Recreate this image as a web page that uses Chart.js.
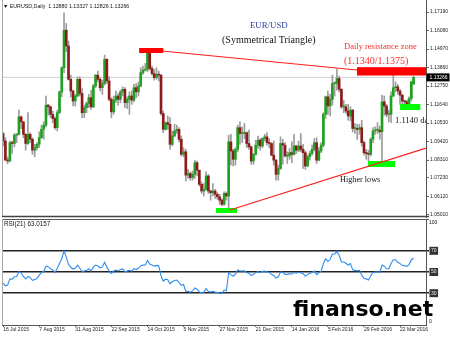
<!DOCTYPE html>
<html><head><meta charset="utf-8">
<script src="https://cdn.jsdelivr.net/npm/chart.js@4.4.0/dist/chart.umd.min.js"></script>
<style>
html,body{margin:0;padding:0;background:#fff;}
#wrap{position:relative;width:450px;height:337px;overflow:hidden;background:#fff;}
canvas{position:absolute;left:0;}
.t{position:absolute;white-space:nowrap;line-height:1;}
.serif{font-family:"Liberation Serif","Times New Roman",serif;}
.sans{font-family:"Liberation Sans",Arial,sans-serif;}
</style></head><body>
<div id="wrap">
<canvas id="pc" width="450" height="219" style="top:0;width:450px;height:219px"></canvas>
<canvas id="rc" width="450" height="118" style="top:219px;width:450px;height:118px"></canvas>
<div class="t sans" style="left:3px;top:3.5px;font-size:5.3px;color:#111">▼ EURUSD,Daily&nbsp; 1.12880 1.13327 1.12826 1.13266</div>
<div class="t serif" style="left:250px;top:20.6px;font-size:8.8px;color:#2b3f9e">EUR/USD</div>
<div class="t serif" style="left:222px;top:35.1px;font-size:10px;color:#111">(Symmetrical Triangle)</div>
<div class="t serif" style="left:344px;top:41.9px;font-size:8.5px;color:#ff2a2a">Daily resistance zone</div>
<div class="t serif" style="left:344px;top:55.6px;font-size:10px;color:#ff2a2a">(1.1340/1.1375)</div>
<div class="t serif" style="left:395px;top:115.9px;width:31px;overflow:hidden;font-size:8.5px;color:#111">1.1140 daily support</div>
<div class="t serif" style="left:340px;top:175.8px;font-size:8.2px;color:#111">Higher lows</div>
<div class="t sans" style="left:4px;top:221px;font-size:6.3px;color:#111">RSI(21) 63.0157</div>
<div class="t sans" style="left:429px;top:219.5px;font-size:5px;color:#111">100</div>
<div class="t sans" style="left:429px;top:318.5px;font-size:5px;color:#111">0</div>
<div class="t" style="left:293px;top:298.4px;font-size:22px;font-weight:bold;font-family:'DejaVu Sans',Verdana,sans-serif;color:#000">finanso.net</div>
</div>
<script>
// ---- data (EURUSD daily, 16 Jul 2015 .. 30 Mar 2016) ----
const open = [1.0990,1.0945,1.0830,1.0825,1.0935,1.0930,1.0980,1.0985,1.1090,1.1060,
1.0985,1.0930,1.0985,1.0955,1.0890,1.0905,1.0925,1.0965,1.1015,1.1040,
1.1160,1.1150,1.1105,1.1080,1.1025,1.1115,1.1240,1.1385,1.1610,1.1515,
1.1315,1.1245,1.1185,1.1215,1.1315,1.1230,1.1115,1.1145,1.1170,1.1205,
1.1150,1.1275,1.1340,1.1315,1.1265,1.1290,1.1435,1.1305,1.1195,1.1120,
1.1190,1.1215,1.1195,1.1240,1.1255,1.1175,1.1195,1.1215,1.1190,1.1265,
1.1240,1.1275,1.1355,1.1370,1.1375,1.1475,1.1380,1.1350,1.1325,1.1345,
1.1340,1.1110,1.1015,1.1055,1.1045,1.0925,1.0975,1.1005,1.1015,1.0955,
1.0865,1.0880,1.0740,1.0750,1.0725,1.0745,1.0815,1.0770,1.0685,1.0645,
1.0655,1.0735,1.0645,1.0635,1.0645,1.0625,1.0610,1.0590,1.0565,1.0630,
1.0615,1.0940,1.0885,1.0835,1.0895,1.1025,1.0990,1.0990,1.0995,1.0930,
1.0910,1.0825,1.0865,1.0920,1.0950,1.0915,1.0960,1.0970,1.0935,1.0930,
1.0860,1.0830,1.0745,1.0780,1.0930,1.0920,1.0855,1.0855,1.0875,1.0865,
1.0915,1.0890,1.0915,1.0895,1.0875,1.0795,1.0850,1.0870,1.0895,1.0935,
1.0830,1.0885,1.0920,1.1105,1.1210,1.1155,1.1195,1.1290,1.1290,1.1320,
1.1255,1.1150,1.1150,1.1125,1.1095,1.1130,1.1020,1.1020,1.1015,1.1025,
1.0935,1.0875,1.0870,1.0865,1.0955,1.1005,1.1010,1.1010,1.1000,1.1180,
1.1155,1.1105,1.1105,1.1215,1.1265,1.1270,1.1245,1.1220,1.1185,1.1180,
1.1165,1.1200,1.1288];
const high = [1.0995,1.0965,1.0850,1.0945,1.0945,1.0990,1.0990,1.1130,1.1095,1.1060,
1.0990,1.1115,1.0995,1.0965,1.0925,1.0935,1.1000,1.1040,1.1060,1.1215,
1.1165,1.1155,1.1125,1.1090,1.1130,1.1245,1.1390,1.1714,1.1650,1.1545,
1.1340,1.1250,1.1225,1.1330,1.1330,1.1260,1.1160,1.1180,1.1225,1.1250,
1.1285,1.1345,1.1365,1.1325,1.1310,1.1460,1.1440,1.1330,1.1205,1.1215,
1.1245,1.1230,1.1250,1.1270,1.1265,1.1210,1.1240,1.1245,1.1285,1.1290,
1.1300,1.1385,1.1395,1.1410,1.1485,1.1495,1.1395,1.1375,1.1385,1.1365,
1.1345,1.1125,1.1060,1.1095,1.1085,1.1005,1.1045,1.1040,1.1025,1.0975,
1.0905,1.0895,1.0775,1.0760,1.0765,1.0830,1.0825,1.0770,1.0700,1.0690,
1.0760,1.0745,1.0650,1.0690,1.0655,1.0635,1.0625,1.0600,1.0640,1.0640,
1.0980,1.0985,1.0895,1.0905,1.1040,1.1060,1.1030,1.1050,1.1000,1.1010,
1.0915,1.0870,1.0950,1.0975,1.0960,1.0965,1.0985,1.0995,1.0960,1.0935,
1.0945,1.0835,1.0800,1.0970,1.0955,1.0935,1.0880,1.0900,1.0940,1.0985,
1.0920,1.0945,1.0990,1.0925,1.0885,1.0860,1.0885,1.0920,1.0960,1.0965,
1.0905,1.0935,1.1115,1.1215,1.1245,1.1225,1.1340,1.1300,1.1376,1.1335,
1.1260,1.1190,1.1165,1.1165,1.1150,1.1135,1.1050,1.1045,1.1045,1.1070,
1.0945,1.0895,1.0890,1.0965,1.1025,1.1030,1.1055,1.1035,1.1220,1.1215,
1.1165,1.1130,1.1240,1.1340,1.1300,1.1285,1.1255,1.1225,1.1190,1.1190,
1.1210,1.1305,1.13327];
const low = [1.0915,1.0830,1.0808,1.0820,1.0870,1.0910,1.0935,1.0980,1.1020,1.0965,
1.0890,1.0925,1.0935,1.0865,1.0850,1.0890,1.0905,1.0960,1.0955,1.1030,
1.1100,1.1085,1.1055,1.1015,1.1005,1.1110,1.1210,1.1355,1.1480,1.1310,
1.1210,1.1155,1.1155,1.1210,1.1215,1.1085,1.1085,1.1115,1.1145,1.1135,
1.1145,1.1265,1.1300,1.1245,1.1225,1.1280,1.1290,1.1185,1.1085,1.1105,
1.1175,1.1160,1.1175,1.1215,1.1145,1.1140,1.1105,1.1165,1.1180,1.1205,
1.1215,1.1270,1.1345,1.1365,1.1360,1.1370,1.1340,1.1310,1.1315,1.1305,
1.1100,1.0995,1.1010,1.1015,1.0895,1.0915,1.0970,1.0990,1.0940,1.0855,
1.0850,1.0705,1.0720,1.0710,1.0710,1.0720,1.0735,1.0675,1.0630,1.0615,
1.0650,1.0630,1.0590,1.0615,1.0600,1.0595,1.0565,1.0555,1.0560,1.0590,
1.0524,1.0800,1.0795,1.0800,1.0880,1.0925,1.0935,1.0960,1.0905,1.0895,
1.0805,1.0805,1.0860,1.0900,1.0890,1.0905,1.0945,1.0920,1.0905,1.0855,
1.0800,1.0710,1.0710,1.0775,1.0805,1.0850,1.0810,1.0835,1.0815,1.0860,
1.0870,1.0880,1.0880,1.0780,1.0775,1.0790,1.0830,1.0860,1.0885,1.0810,
1.0825,1.0875,1.0910,1.1080,1.1105,1.1095,1.1160,1.1215,1.1250,1.1240,
1.1140,1.1115,1.1110,1.1070,1.1065,1.1000,1.0990,1.0955,1.0985,1.0915,
1.0860,1.0835,1.0825,1.0855,1.0935,1.0985,1.0990,1.0955,1.0822,1.1100,
1.1090,1.1060,1.1055,1.1210,1.1240,1.1225,1.1165,1.1165,1.1145,1.1160,
1.1160,1.1185,1.12826];
const close = [1.0945,1.0830,1.0825,1.0935,1.0930,1.0980,1.0985,1.1090,1.1060,1.0985,
1.0930,1.0985,1.0955,1.0890,1.0905,1.0925,1.0965,1.1015,1.1040,1.1160,
1.1150,1.1105,1.1080,1.1025,1.1115,1.1240,1.1385,1.1610,1.1515,1.1315,
1.1245,1.1185,1.1215,1.1315,1.1230,1.1115,1.1145,1.1170,1.1205,1.1150,
1.1275,1.1340,1.1315,1.1265,1.1290,1.1435,1.1305,1.1195,1.1120,1.1190,
1.1215,1.1195,1.1240,1.1255,1.1175,1.1195,1.1215,1.1190,1.1265,1.1240,
1.1275,1.1355,1.1370,1.1375,1.1475,1.1380,1.1350,1.1325,1.1345,1.1340,
1.1110,1.1015,1.1055,1.1045,1.0925,1.0975,1.1005,1.1015,1.0955,1.0865,
1.0880,1.0740,1.0750,1.0725,1.0745,1.0815,1.0770,1.0685,1.0645,1.0655,
1.0735,1.0645,1.0635,1.0645,1.0625,1.0610,1.0590,1.0565,1.0630,1.0615,
1.0940,1.0885,1.0835,1.0895,1.1025,1.0990,1.0990,1.0995,1.0930,1.0910,
1.0825,1.0865,1.0920,1.0950,1.0915,1.0960,1.0970,1.0935,1.0930,1.0860,
1.0830,1.0745,1.0780,1.0930,1.0920,1.0855,1.0855,1.0875,1.0865,1.0915,
1.0890,1.0915,1.0895,1.0875,1.0795,1.0850,1.0870,1.0895,1.0935,1.0830,
1.0885,1.0920,1.1105,1.1210,1.1155,1.1195,1.1290,1.1290,1.1320,1.1255,
1.1150,1.1150,1.1125,1.1095,1.1130,1.1020,1.1020,1.1015,1.1025,1.0935,
1.0875,1.0870,1.0865,1.0955,1.1005,1.1010,1.1010,1.1000,1.1180,1.1155,
1.1105,1.1105,1.1215,1.1265,1.1270,1.1245,1.1220,1.1185,1.1180,1.1165,
1.1200,1.1300,1.13266];
const rsi = [39.5,37.0,37.6,43.5,43.2,45.5,45.8,50.5,49.0,45.8,
43.4,45.9,44.6,42.2,43.0,43.8,47.0,49.5,50.5,55.5,
55.0,53.0,52.0,49.5,53.5,58.0,62.5,70.0,64.0,57.0,
54.5,52.8,53.8,56.5,53.5,50.5,51.0,51.7,52.8,51.0,
54.6,56.5,55.6,54.0,54.8,59.2,54.6,51.0,48.6,50.9,
51.7,51.0,52.4,52.9,50.3,50.9,51.6,50.8,53.2,52.3,
53.5,56.0,56.5,56.7,61.0,57.5,56.5,55.6,56.2,55.9,
46.5,41.5,43.2,42.8,38.9,40.8,42.0,42.4,40.3,37.5,
38.2,31.5,31.8,31.0,32.2,35.0,33.8,31.2,30.2,30.8,
34.5,31.5,31.2,31.7,31.0,30.6,30.2,29.6,33.0,32.5,
49.5,47.5,46.0,48.0,52.0,51.0,51.0,51.1,49.4,48.9,
46.6,47.8,49.4,50.3,49.3,50.6,50.9,49.8,49.7,47.6,
46.8,44.2,45.5,50.0,49.7,47.8,47.8,48.4,48.1,49.6,
48.9,49.7,49.1,48.5,46.0,48.0,48.6,49.5,50.9,47.5,
49.3,50.5,58.0,62.5,60.0,62.0,67.0,67.0,69.5,65.5,
59.5,59.5,58.2,56.6,58.0,52.0,51.5,51.2,51.6,47.0,
44.0,43.5,42.5,46.5,49.5,50.0,50.0,49.5,56.5,55.5,
53.0,53.0,58.0,61.5,61.6,59.2,57.9,56.2,56.0,55.2,
57.0,61.6,63.0157];
const xTickLabels = ['16 Jul 2015','7 Aug 2015','31 Aug 2015','22 Sep 2015','14 Oct 2015','5 Nov 2015','27 Nov 2015','21 Dec 2015','14 Jan 2016','5 Feb 2016','29 Feb 2016','22 Mar 2016'];
const xTickIdx = [0,16,32,48,64,80,96,112,128,144,160,176];
const priceTicks = [1.17190,1.16080,1.14970,1.13860,1.12750,1.11640,1.10530,1.09420,1.08310,1.07230,1.06120,1.05010];
const rsiLevels = [30,50,70];
const lastPrice = 1.13266;
// annotations in (bar index, price)
const trendLines = [
  [{x:70.5,y:1.1485},{x:156.9,y:1.1371}],   // resistance (upper triangle side)
  [{x:100.6,y:1.0531},{x:187.5,y:1.0903}]   // support (higher lows)
];
const zones = [
  {x0:60.3,x1:71.0,lo:1.1473,hi:1.1503,color:'#ff0000'},
  {x0:156.9,x1:187.5,lo:1.1338,hi:1.1388,color:'#ff0000'},
  {x0:94.4,x1:103.7,lo:1.0513,hi:1.0543,color:'#00ff00'},
  {x0:161.8,x1:173.8,lo:1.0789,hi:1.0825,color:'#00ff00'},
  {x0:176.0,x1:185.0,lo:1.1131,hi:1.1167,color:'#00ff00'}
];
const N = 188; // bar slots incl. right margin
const categories = Array.from({length:N},(_,i)=>String(i));

Chart.defaults.font.family = '"Liberation Sans", Arial, sans-serif';
Chart.defaults.animation = false;

const bull='#1fa11f', bear='#8e1b1b', wick='#9c9c9c';

function clipArea(ctx,a){ ctx.beginPath(); ctx.rect(a.left,a.top,a.right-a.left,a.bottom-a.top); ctx.clip(); }

const pricePlugin = {
  id:'pricePlugin',
  beforeDatasetsDraw(chart){
    const {ctx, chartArea:a, scales} = chart;
    const y = scales.y.getPixelForValue(lastPrice);
    ctx.save(); clipArea(ctx,a);
    ctx.strokeStyle='#d0d0d0'; ctx.lineWidth=1;
    ctx.beginPath(); ctx.moveTo(a.left,y); ctx.lineTo(a.right,y); ctx.stroke();
    ctx.restore();
  },
  afterDatasetsDraw(chart){
    const {ctx, chartArea:a, scales} = chart;
    const xs=scales.x, ys=scales.y;
    ctx.save(); clipArea(ctx,a);
    zones.forEach(z=>{
      const x0=xs.getPixelForValue(z.x0), x1=xs.getPixelForValue(z.x1);
      const y0=ys.getPixelForValue(z.hi), y1=ys.getPixelForValue(z.lo);
      ctx.fillStyle=z.color; ctx.fillRect(x0,y0,x1-x0,y1-y0);
    });
    ctx.strokeStyle='#ff1e1e'; ctx.lineWidth=1.2;
    trendLines.forEach(l=>{
      ctx.beginPath();
      ctx.moveTo(xs.getPixelForValue(l[0].x), ys.getPixelForValue(l[0].y));
      ctx.lineTo(xs.getPixelForValue(l[1].x), ys.getPixelForValue(l[1].y));
      ctx.stroke();
    });
    ctx.restore();
  },
  afterDraw(chart){
    const {ctx, chartArea:a, scales} = chart;
    ctx.save();
    ctx.strokeStyle='#a8a8a8'; ctx.lineWidth=1;
    ctx.beginPath(); ctx.moveTo(a.left+0.5,a.top); ctx.lineTo(a.left+0.5,a.bottom); ctx.stroke();
    ctx.strokeStyle='#444'; ctx.lineWidth=1.5;
    ctx.beginPath(); ctx.moveTo(a.left,a.bottom-0.5); ctx.lineTo(a.right+3,a.bottom-0.5); ctx.stroke();
    const y=scales.y.getPixelForValue(lastPrice);
    ctx.fillStyle='#000'; ctx.fillRect(a.right+0.5,y-4,23,8);
    ctx.fillStyle='#fff'; ctx.font='5px "Liberation Sans", Arial'; ctx.textBaseline='middle'; ctx.textAlign='left';
    ctx.fillText(lastPrice.toFixed(5), a.right+3.5, y+0.3);
    ctx.restore();
  }
};

new Chart(document.getElementById('pc'), {
  type:'bar',
  data:{labels:categories, datasets:[
    {data:high.map((h,i)=>[low[i],h]), backgroundColor:wick, barThickness:1, grouped:false, order:6},
    {data:open.map((o,i)=>[o,close[i]]), backgroundColor:open.map((o,i)=>close[i]>=o?bull:bear), barThickness:2, minBarLength:1, grouped:false, order:5}
  ]},
  options:{
    responsive:false, devicePixelRatio:1, events:[],
    layout:{padding:{left:2,right:0,top:0,bottom:2}},
    plugins:{legend:{display:false}, tooltip:{enabled:false}},
    scales:{
      x:{type:'category', display:false, offset:true},
      y:{position:'right', min:1.0489, max:1.1791,
         afterBuildTicks(s){ s.ticks = priceTicks.map(v=>({value:v})); },
         afterFit(s){ s.width=24; s.paddingTop=0; s.paddingBottom=0; },
         ticks:{font:{size:5}, color:'#222', padding:1, callback:v=>Number(v).toFixed(5), autoSkip:false},
         grid:{drawOnChartArea:false, drawTicks:true, tickLength:3, color:'#666'},
         border:{display:true, color:'#555', width:1}}
    }
  },
  plugins:[pricePlugin]
});

const rsiPlugin = {
  id:'rsiPlugin',
  afterDraw(chart){
    const {ctx, chartArea:a} = chart;
    ctx.save();
    ctx.strokeStyle='#555'; ctx.lineWidth=1;
    ctx.beginPath(); ctx.moveTo(a.left,a.top+0.5); ctx.lineTo(a.right+3,a.top+0.5); ctx.stroke();
    ctx.strokeStyle='#a8a8a8';
    ctx.beginPath(); ctx.moveTo(a.left+0.5,a.top); ctx.lineTo(a.left+0.5,a.bottom); ctx.stroke();
    ctx.restore();
  }
};

new Chart(document.getElementById('rc'), {
  type:'line',
  data:{labels:categories, datasets:[
    {data:rsi, borderColor:'#2d8cf0', borderWidth:1.1, pointRadius:0, tension:0}
  ]},
  options:{
    responsive:false, devicePixelRatio:1, events:[],
    layout:{padding:{left:2,right:0,top:0,bottom:0}},
    plugins:{legend:{display:false}, tooltip:{enabled:false}},
    scales:{
      x:{type:'category', offset:true,
         afterBuildTicks(s){ s.ticks = xTickIdx.map(v=>({value:v})); },
         afterFit(s){ s.height=12; s.paddingLeft=0; s.paddingRight=0; },
         ticks:{font:{size:5}, color:'#222', align:'start', padding:0, autoSkip:false, maxRotation:0, minRotation:0,
                callback:(v,i)=>xTickLabels[i]},
         grid:{drawOnChartArea:false, drawTicks:true, tickLength:2, color:'#777'},
         border:{display:true, color:'#555', width:1}},
      y:{position:'right', min:0, max:100,
         afterBuildTicks(s){ s.ticks = rsiLevels.map(v=>({value:v})); },
         afterFit(s){ s.width=24; s.paddingTop=0; s.paddingBottom=0; },
         ticks:{font:{size:5}, color:'#eee', padding:2, showLabelBackdrop:true, backdropColor:'#333', backdropPadding:{top:1,bottom:1,left:1.5,right:1.5}},
         grid:{color:'#222', lineWidth:1.5, drawTicks:true, tickLength:3},
         border:{display:true, color:'#555', width:1}}
    }
  },
  plugins:[rsiPlugin]
});
</script>
</body></html>
